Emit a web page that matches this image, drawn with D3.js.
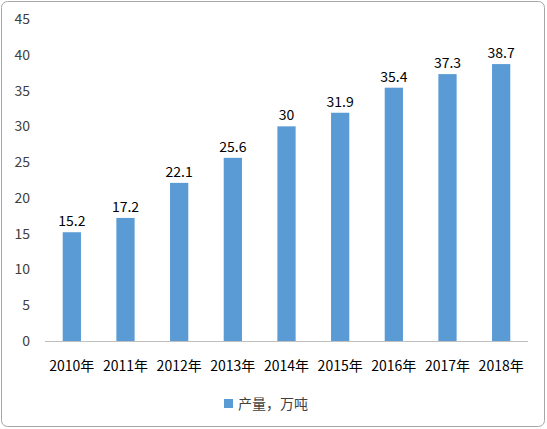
<!DOCTYPE html>
<html><head><meta charset="utf-8">
<script src="https://cdn.jsdelivr.net/npm/d3@7"></script>
<style>body{margin:0;background:#fff;}text{font-family:"Noto Sans CJK SC","Liberation Sans",sans-serif;}</style>
</head><body><svg id="c" width="547" height="429"></svg>
<script>
const categories=["2010年","2011年","2012年","2013年","2014年","2015年","2016年","2017年","2018年"];
const values=[15.2,17.2,22.1,25.6,30,31.9,35.4,37.3,38.7];
const yTicks=[0,5,10,15,20,25,30,35,40,45];
const seriesName="产量，万吨";
const svg=d3.select("#c");
svg.append("rect").attr("x",1.5).attr("y",1.5).attr("width",543).attr("height",425).attr("rx",6).attr("fill","#fff").attr("stroke","#a6a6a6");
const x=d3.scaleBand().domain(categories).range([45,528]).paddingInner(0.66).paddingOuter(0.33);
const y=d3.scaleLinear().domain([0,45]).range([341,19]);
svg.append("g").selectAll("text").data(yTicks).join("text").attr("x",30).attr("y",d=>y(d)+5).attr("text-anchor","end").attr("font-size",14).attr("fill","#404040").text(d=>d);
svg.append("line").attr("x1",45).attr("x2",528).attr("y1",341.5).attr("y2",341.5).attr("stroke","#bfbfbf");
svg.append("g").selectAll("rect").data(values).join("rect").attr("x",(d,i)=>x(categories[i])).attr("width",x.bandwidth()).attr("y",d=>y(d)).attr("height",d=>341-y(d)).attr("fill","#5b9bd5");
svg.append("g").selectAll("text").data(values).join("text").attr("x",(d,i)=>x(categories[i])+x.bandwidth()/2).attr("y",d=>y(d)-6).attr("text-anchor","middle").attr("font-size",14).attr("fill","#000").text(d=>d);
svg.append("g").selectAll("text").data(categories).join("text").attr("x",d=>x(d)+x.bandwidth()/2).attr("y",371).attr("text-anchor","middle").attr("font-size",14).attr("fill","#000").text(d=>d);
svg.append("rect").attr("x",224).attr("y",399).attr("width",9).attr("height",9).attr("fill","#5b9bd5");
svg.append("text").attr("x",238).attr("y",409).attr("font-size",14).attr("fill","#404040").text(seriesName);
</script></body></html>
